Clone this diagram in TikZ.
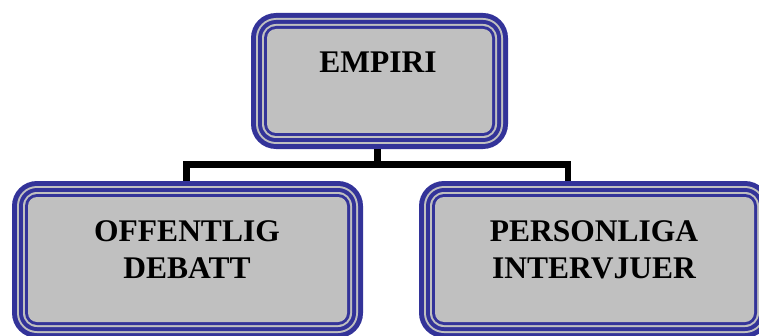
\documentclass[tikz,border=0pt]{standalone}
\usepackage{fontspec}
\setmainfont{Liberation Serif}
\definecolor{bandblue}{HTML}{333399}
\definecolor{boxgray}{HTML}{C0C0C0}
\tikzset{
  framedbox/.style={rectangle, fill=bandblue, draw=none, rounded corners=25, inner sep=0pt,
    path picture={
      \fill[boxgray, rounded corners=20] ([shift={(5,5)}]path picture bounding box.south west) rectangle ([shift={(-5,-5)}]path picture bounding box.north east);
      \fill[bandblue, rounded corners=18] ([shift={(7,7)}]path picture bounding box.south west) rectangle ([shift={(-7,-7)}]path picture bounding box.north east);
      \fill[boxgray, rounded corners=14] ([shift={(11,11)}]path picture bounding box.south west) rectangle ([shift={(-11,-11)}]path picture bounding box.north east);
      \fill[bandblue, rounded corners=12] ([shift={(13,13)}]path picture bounding box.south west) rectangle ([shift={(-13,-13)}]path picture bounding box.north east);
      \fill[boxgray, rounded corners=9] ([shift={(16,16)}]path picture bounding box.south west) rectangle ([shift={(-16,-16)}]path picture bounding box.north east);
    }},
  lbl/.style={font=\fontsize{31.5}{36.6}\selectfont\bfseries, align=center, anchor=base, inner sep=0pt},
  conn/.style={line width=6.5pt, draw=black, line join=miter, line cap=butt}
}
\begin{document}
\begin{tikzpicture}[x=1pt,y=1pt]
\useasboundingbox (0,0) rectangle (759,335);
\clip (0,0) rectangle (759,335);
\node[framedbox, minimum width=257, minimum height=136] (top) at (379.5,254) {};
\node[framedbox, minimum width=351, minimum height=157] (left) at (187.5,75.5) {};
\node[framedbox, minimum width=351, minimum height=157] (right) at (594.5,75.5) {};
\node[lbl] (toplbl) at (378,262) {EMPIRI};
\node[lbl] (leftlbl) at (187,56.7) {OFFENTLIG\\DEBATT};
\node[lbl] (rightlbl) at (594,56.7) {PERSONLIGA\\INTERVJUER};
\coordinate (bar) at (377.5,170.5);
\draw[conn] ([xshift=-2]top.south) -- ([xshift=-2]top.south |- bar);
\draw[conn] ([xshift=-0.8]left.north) -- ([xshift=-0.8]left.north |- bar) -- ([xshift=-26.5]right.north |- bar) -- ([xshift=-26.5]right.north);
\end{tikzpicture}
\end{document}
